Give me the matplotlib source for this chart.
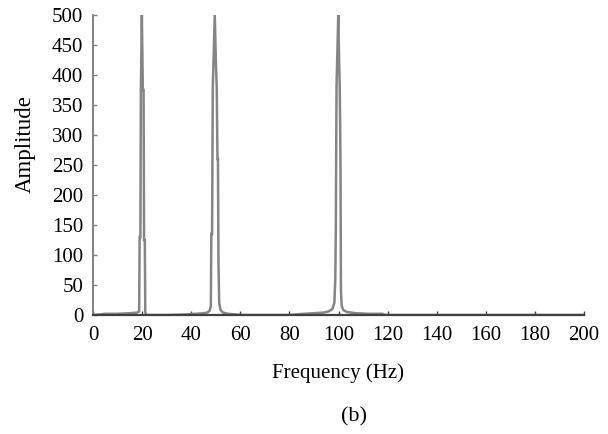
import matplotlib
matplotlib.use("Agg")
import matplotlib.pyplot as plt

# Spectrum data (frequency in Hz, amplitude)
freq = [0, 3, 5, 10, 15, 18, 18.8, 19.0, 19.3, 19.5, 19.9, 20.3, 20.6, 20.8, 21.1, 21.3, 21.6,
        30, 38, 42, 45, 46.5, 47.5, 48.0, 48.2, 48.5, 48.8, 49.6, 50.1, 50.4, 50.7, 50.9, 51.1,
        51.4, 52.0, 53, 55, 58, 60, 80, 86, 90, 94, 96, 97.5, 98.3, 98.7, 98.9, 99.2, 99.9,
        100.3, 100.5, 100.8, 101.0, 101.3, 102.0, 103.5, 107, 112, 118, 119, 150, 200]
amp = [0, 1, 2, 2, 3, 4, 6, 130, 130, 375, 500, 375, 375, 125, 125, 5, 0,
       0, 1, 2, 3, 4, 7, 15, 135, 135, 380, 500, 415, 380, 260, 260, 90,
       20, 8, 4, 2, 1, 0, 0, 2, 3, 4, 6, 10, 20, 60, 140, 380, 500,
       415, 380, 260, 40, 15, 8, 5, 3, 2, 2, 0, 0, 0]

xticks = [0, 20, 40, 60, 80, 100, 120, 140, 160, 180, 200]
yticks = [0, 50, 100, 150, 200, 250, 300, 350, 400, 450, 500]

plt.rcParams['font.family'] = ['Liberation Serif', 'DejaVu Serif']

W, H = 608, 434
fig = plt.figure(figsize=(W / 100, H / 100), dpi=100)
ax = fig.add_axes([93 / W, 1 - 315 / H, (584 - 93) / W, (315 - 15) / H])

ax.plot(freq, amp, color='#858585', lw=1.8, solid_joinstyle='miter')

ax.set_xlim(0, 200)
ax.set_ylim(0, 500)
ax.set_xticks(xticks)
ax.set_yticks(yticks)
ax.tick_params(axis='x', direction='in', length=3, width=1, color='#404040',
               labelsize=15, pad=8)
ax.tick_params(axis='y', direction='in', length=3, width=1, color='#808080',
               labelsize=15, pad=7)

for s in ['top', 'right']:
    ax.spines[s].set_visible(False)
ax.spines['left'].set_color('#7a7a7a')
ax.spines['left'].set_linewidth(1.3)
ax.spines['bottom'].set_color('#404040')
ax.spines['bottom'].set_linewidth(1.6)

fig.text(338 / W, 1 - 373 / H, 'Frequency (Hz)', ha='center', va='center', fontsize=15)
fig.text(25 / W, 1 - 144 / H, 'Amplitude', ha='center', va='center', rotation=90, fontsize=16.5)
fig.text(354 / W, 1 - 417 / H, '(b)', ha='center', va='center', fontsize=16)

fig.savefig('out.png', dpi=100)
